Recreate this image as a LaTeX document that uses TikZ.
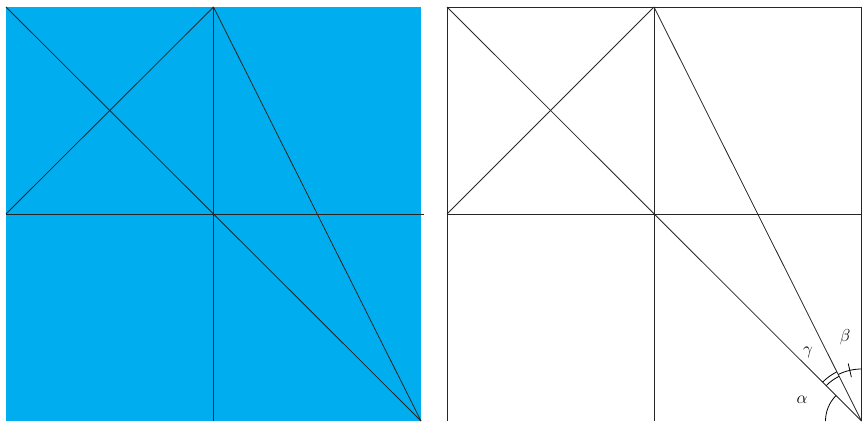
\documentclass[tikz,border=0pt]{standalone}
\definecolor{sqblue}{HTML}{00AEEF}
\begin{document}
\begin{tikzpicture}[x=1pt,y=1pt,
  ln/.style={draw=black!85, line width=0.8pt},
  mk/.style={draw=black, line width=0.8pt},
  lab/.style={font=\LARGE, inner sep=0pt}]
\useasboundingbox (0,0) rectangle (862,421);
% left square
\fill[sqblue] (6,0) rectangle (421,414);
\coordinate (A) at (6,414);
\coordinate (B) at (213.5,414);
\coordinate (D) at (6,207);
\coordinate (E) at (213.5,207);
\coordinate (Fx) at (424,207);
\coordinate (H) at (213.5,0);
\coordinate (I) at (421,0);
\draw[ln] (D) -- (Fx);
\draw[ln] (B) -- (H);
\draw[ln] (A) -- (I);
\draw[ln] (D) -- (B);
\draw[ln] (B) -- (I);
% right square
\coordinate (rA) at (447,414);
\coordinate (rB) at (654,414);
\coordinate (rC) at (861.5,414);
\coordinate (rD) at (447,207);
\coordinate (rF) at (861.5,207);
\coordinate (rG) at (447,0);
\coordinate (rH) at (654,0);
\coordinate (rI) at (861.5,0);
\draw[ln] (rG) -- (rA) -- (rC) -- (rI);
\draw[ln] (rD) -- (rF);
\draw[ln] (rB) -- (rH);
\draw[ln] (rA) -- (rI);
\draw[ln] (rD) -- (rB);
\draw[ln] (rB) -- (rI);
% angle marks
\draw[mk] ([shift={(135:36)}]rI) arc[start angle=135, end angle=180, radius=36];
\draw[mk] ([shift={(116.57:50)}]rI) arc[start angle=116.57, end angle=135, radius=50];
\draw[mk] ([shift={(116.57:55)}]rI) arc[start angle=116.57, end angle=135, radius=55];
\draw[mk] ([shift={(90:52)}]rI) arc[start angle=90, end angle=116.57, radius=52];
\draw[mk] ([shift={(103:45)}]rI) -- ([shift={(103:59)}]rI);
\node[lab] (ga) at (808,69) {$\gamma$};
\node[lab] (be) at (845,84) {$\beta$};
\node[lab] (al) at (802,21) {$\alpha$};
\end{tikzpicture}
\end{document}
